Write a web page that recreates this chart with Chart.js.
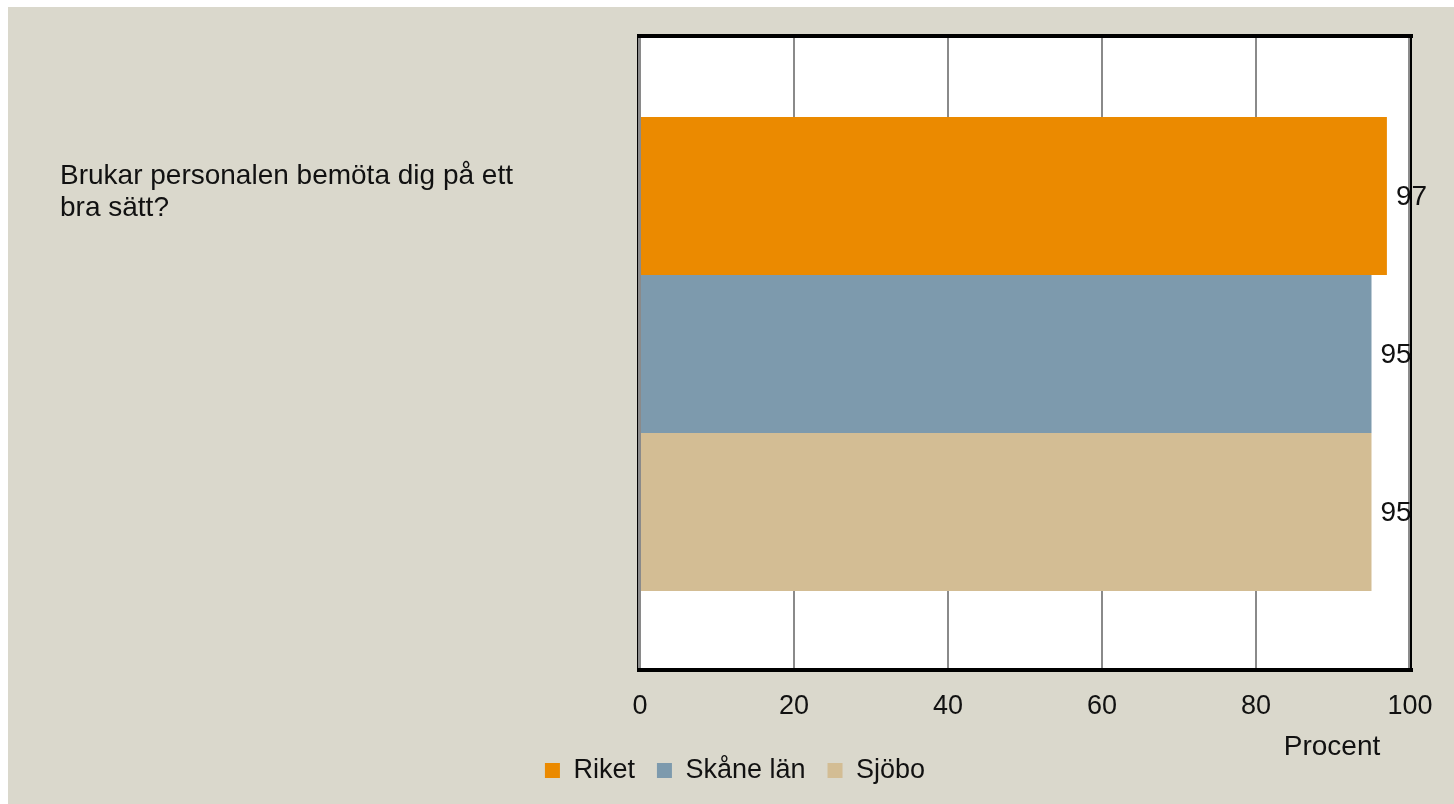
<!DOCTYPE html>
<html>
<head>
<meta charset="utf-8">
<script src="https://cdn.jsdelivr.net/npm/chart.js@4"></script>
<style>
  body { margin: 0; background: #ffffff; }
  #wrap { position: absolute; left: 8px; top: 7px; width: 1446px; height: 797px; background: #DAD8CC; }
</style>
</head>
<body>
<div id="wrap"><canvas id="chart"></canvas></div>
<script>
// Data
const categories = ['Brukar personalen bemöta dig på ett bra sätt?'];
const categoryLines = ['Brukar personalen bemöta dig på ett', 'bra sätt?'];
const seriesNames = ['Riket', 'Skåne län', 'Sjöbo'];
const riketValues = [97];
const skaneValues = [95];
const sjoboValues = [95];
const xTicks = [0, 20, 40, 60, 80, 100];
const axisTitle = 'Procent';

const colors = {
  riket: '#EB8A00',
  skane: '#7D9AAD',
  sjobo: '#D3BD94',
  grid: '#8a8a8a',
  text: '#111111'
};

const fontFamily = '"Liberation Sans", Arial, sans-serif';

// plot background, category label, value labels, axis title and frame
const extras = {
  id: 'extras',
  beforeDraw(chart) {
    const ctx = chart.ctx;
    const a = chart.chartArea;
    ctx.save();
    ctx.fillStyle = '#ffffff';
    ctx.fillRect(a.left, a.top, a.right - a.left, a.bottom - a.top);
    ctx.restore();
  },
  afterDatasetsDraw(chart) {
    const ctx = chart.ctx;
    const a = chart.chartArea;
    ctx.save();

    // plot frame
    ctx.fillStyle = '#000000';
    ctx.fillRect(a.left - 3, a.top - 4, a.right - a.left + 6, 4);
    ctx.fillRect(a.left - 3, a.bottom - 2, a.right - a.left + 6, 4);
    ctx.fillRect(a.left - 3, a.top - 4, 1, a.bottom - a.top + 6);
    ctx.fillRect(a.right, a.top - 4, 2, a.bottom - a.top + 6);
    ctx.fillStyle = '#8c8c8c';
    ctx.fillRect(a.left - 2, a.top, 2, a.bottom - a.top - 2);
    ctx.fillRect(a.right - 2, a.top, 2, a.bottom - a.top - 2);

    // value labels
    ctx.font = '28px ' + fontFamily;
    ctx.fillStyle = colors.text;
    ctx.textAlign = 'left';
    ctx.textBaseline = 'middle';
    chart.data.datasets.forEach((ds, i) => {
      const meta = chart.getDatasetMeta(i);
      meta.data.forEach((bar, j) => {
        ctx.fillText(String(ds.data[j]), bar.x + 9, bar.y + 1);
      });
    });

    // category label
    ctx.font = '28px ' + fontFamily;
    ctx.textBaseline = 'alphabetic';
    categoryLines.forEach((line, i) => {
      ctx.fillText(line, 52, a.top + 146 + i * 32);
    });

    // axis title
    ctx.font = '28px ' + fontFamily;
    ctx.textAlign = 'center';
    ctx.textBaseline = 'middle';
    ctx.fillText(axisTitle, a.right - 78, a.bottom + 77);
    ctx.restore();
  }
};

new Chart(document.getElementById('chart'), {
  type: 'bar',
  data: {
    labels: categories,
    datasets: [
      { label: seriesNames[0], data: riketValues, backgroundColor: colors.riket },
      { label: seriesNames[1], data: skaneValues, backgroundColor: colors.skane },
      { label: seriesNames[2], data: sjoboValues, backgroundColor: colors.sjobo }
    ]
  },
  options: {
    indexAxis: 'y',
    responsive: true,
    maintainAspectRatio: false,
    animation: false,
    categoryPercentage: 0.75,
    barPercentage: 1,
    layout: { padding: { left: 52, top: 31, right: 44, bottom: 10 } },
    plugins: {
      legend: {
        position: 'bottom',
        labels: {
          boxWidth: 15,
          boxHeight: 15,
          padding: 22,
          color: colors.text,
          font: { family: fontFamily, size: 27 }
        }
      },
      tooltip: { enabled: false }
    },
    scales: {
      x: {
        min: 0,
        max: 100,
        afterBuildTicks(scale) {
          scale.ticks = xTicks.map(v => ({ value: v }));
        },
        afterFit(scale) { scale.height = 65; },
        border: { display: false },
        grid: { color: colors.grid, lineWidth: 2, drawTicks: false },
        ticks: {
          padding: 20,
          color: colors.text,
          font: { family: fontFamily, size: 27 }
        }
      },
      y: {
        afterFit(scale) { scale.width = 580; },
        border: { display: false },
        grid: { display: false, drawTicks: false },
        ticks: { display: false }
      }
    }
  },
  plugins: [extras]
});
</script>
</body>
</html>
